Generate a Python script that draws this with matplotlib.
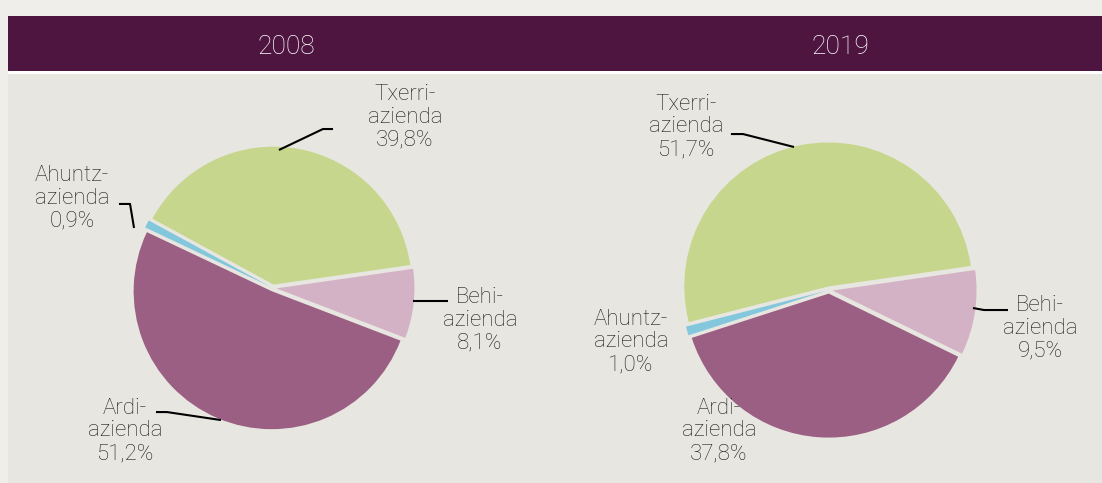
import matplotlib
matplotlib.use('Agg')
import matplotlib.pyplot as plt
from matplotlib.patches import Rectangle

# data
categories = ['Behi-\nazienda', 'Txerri-\nazienda', 'Ahuntz-\nazienda', 'Ardi-\nazienda']
years = ['2008', '2019']
shares_2008 = [8.1, 39.8, 0.9, 51.2]
shares_2019 = [9.5, 51.7, 1.0, 37.8]
colors = ['#d3b2c5', '#c6d68c', '#82c7db', '#9a5f82']

W, H = 1102, 483
plt.rcParams['font.family'] = ['Roboto', 'DejaVu Sans']
FW = 'light'

fig = plt.figure(figsize=(W / 100, H / 100), dpi=100)
fig.patch.set_facecolor('#efeeea')

# panel background, header band and white rule
fig.patches.append(Rectangle((8 / W, 0), 1, (H - 74) / H, transform=fig.transFigure,
                             facecolor='#e8e6e1', edgecolor='none', zorder=-5))
fig.patches.append(Rectangle((8 / W, (H - 71) / H), 1, 55 / H, transform=fig.transFigure,
                             facecolor='#4d1540', edgecolor='none', zorder=-5))
fig.patches.append(Rectangle((8 / W, (H - 74) / H), 1, 3 / H, transform=fig.transFigure,
                             facecolor='white', edgecolor='none', zorder=-5))

fig.text(286 / W, 1 - 47 / H, years[0], color='white', fontsize=19, fontweight=FW,
         ha='center', va='center')
fig.text(840 / W, 1 - 47 / H, years[1], color='white', fontsize=19, fontweight=FW,
         ha='center', va='center')


def draw_pie(cx, cy, R, shares, start, labels):
    ax = fig.add_axes([(cx - R) / W, (H - cy - R) / H, 2 * R / W, 2 * R / H])
    ax.pie(shares, colors=colors, startangle=start, counterclock=True,
           explode=[0.025] * len(shares), wedgeprops=dict(linewidth=0))
    ax.set_xlim(-1, 1)
    ax.set_ylim(-1, 1)
    ax.axis('off')
    for i, (tx, ty, leader) in enumerate(labels):
        pct = ('%.1f%%' % shares[i]).replace('.', ',')
        ax.text(tx, ty, categories[i] + '\n' + pct, ha='center', va='center',
                fontsize=16, fontweight=FW, color='#1e1e1e',
                linespacing=1.1, clip_on=False)
        if leader:
            ax.plot([p[0] for p in leader], [p[1] for p in leader], color='black',
                    lw=1.5, clip_on=False, solid_capstyle='butt')


# label positions (data units of each pie) and leader lines
labels_2008 = [
    (1.50, -0.232, [(1.014, -0.094), (1.268, -0.094)]),
    (0.957, 1.239, [(0.043, 1.0), (0.362, 1.152), (0.435, 1.152)]),
    (-1.457, 0.652, [(-1.116, 0.609), (-1.036, 0.609), (-1.007, 0.435)]),
    (-1.072, -1.036, [(-0.848, -0.899), (-0.768, -0.899), (-0.377, -0.957)]),
]
labels_2019 = [
    (1.465, -0.264, [(1.0, -0.125), (1.076, -0.139), (1.243, -0.139)]),
    (-0.993, 1.132, [(-0.681, 1.083), (-0.597, 1.083), (-0.243, 0.993)]),
    (-1.375, -0.361, None),
    (-0.764, -0.979, None),
]

draw_pie(273, 288, 138, shares_2008, -21, labels_2008)
draw_pie(829, 290, 144, shares_2019, -26, labels_2019)

fig.savefig('out.png', dpi=100, facecolor=fig.get_facecolor())
